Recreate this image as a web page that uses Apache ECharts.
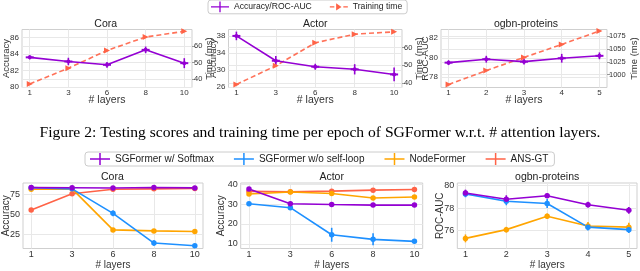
<!DOCTYPE html>
<html><head><meta charset="utf-8">
<script src="https://cdn.jsdelivr.net/npm/echarts@6/dist/echarts.min.js"></script>
<style>html,body{margin:0;padding:0;background:#fff}#c{width:640px;height:271px}</style>
</head><body><div id="c"></div>
<script>
// ---------- DATA ----------
const coraLayers = ['1', '3', '6', '8', '10'];
const actorLayers = ['1', '3', '6', '8', '10'];
const ogbnLayers = ['1', '2', '3', '4', '5'];

// Top row: SGFormer accuracy + training time
const topCoraAcc = [83.6, 83.1, 82.7, 84.5, 82.9];
const topCoraAccErr = [0.25, 0.45, 0.35, 0.4, 0.6];
const topCoraTime = [37.2, 46.7, 57.3, 65.4, 68.8];
const topActorAcc = [38.0, 32.2, 30.8, 30.2, 29.0];
const topActorAccErr = [1.0, 1.1, 0.7, 1.2, 1.6];
const topActorTime = [39.4, 49.8, 62.6, 67.4, 68.7];
const topOgbnAcc = [79.5, 79.85, 79.6, 79.95, 80.2];
const topOgbnAccErr = [0.25, 0.35, 0.3, 0.45, 0.35];
const topOgbnTime = [981.0, 1008.0, 1033.5, 1058.6, 1084.7];

// Top row tick labels
const topCoraAccTicks = [80, 82, 84, 86];
const topCoraTimeTicks = [40, 50, 60];
const topActorAccTicks = [26, 30, 34, 38];
const topActorTimeTicks = [40, 50, 60];
const topOgbnAccTicks = [78, 80, 82];
const topOgbnTimeTicks = [1000, 1025, 1050, 1075];

// Bottom row: variants
const botCoraSoftmax = [83.6, 83.4, 83.0, 83.8, 83.2];
const botCoraSoftmaxErr = [0.4, 0.5, 0.5, 0.5, 0.6];
const botCoraNoLoop = [83.5, 82.0, 51.6, 14.7, 11.4];
const botCoraNoLoopErr = [0.6, 0.8, 3.5, 3.5, 1.2];
const botCoraNodeFormer = [81.5, 82.0, 31.0, 29.8, 29.1];
const botCoraNodeFormerErr = [0.6, 0.8, 1.0, 1.0, 1.0];
const botCoraAnsGt = [55.7, 76.0, 81.5, 82.0, 82.5];
const botCoraAnsGtErr = [0.8, 0.8, 0.6, 0.6, 0.6];

const botActorSoftmax = [37.6, 30.2, 29.8, 29.5, 29.5];
const botActorSoftmaxErr = [1.0, 1.0, 0.6, 1.0, 1.0];
const botActorNoLoop = [30.2, 28.2, 14.6, 12.3, 11.3];
const botActorNoLoopErr = [0.6, 0.8, 3.5, 3.0, 1.0];
const botActorNodeFormer = [35.1, 36.1, 35.3, 33.1, 33.6];
const botActorNodeFormerErr = [0.8, 0.6, 0.8, 0.8, 0.6];
const botActorAnsGt = [36.4, 36.2, 36.5, 37.0, 37.3];
const botActorAnsGtErr = [0.6, 0.6, 0.6, 0.6, 0.8];

const botOgbnSoftmax = [79.34, 78.79, 79.1, 78.3, 77.8];
const botOgbnSoftmaxErr = [0.3, 0.35, 0.2, 0.25, 0.3];
const botOgbnNoLoop = [79.26, 78.6, 78.4, 76.3, 76.08];
const botOgbnNoLoopErr = [0.3, 0.35, 0.4, 0.3, 0.3];
const botOgbnNodeFormer = [75.3, 76.08, 77.27, 76.4, 76.3];
const botOgbnNodeFormerErr = [0.35, 0.25, 0.25, 0.35, 0.4];

const botCoraTicks = [25, 50, 75];
const botActorTicks = [10, 20, 30, 40];
const botOgbnTicks = [76, 78, 80];

// ---------- STYLE ----------
const PURPLE = '#9400D3', BLUE = '#1E90FF', ORANGE = '#FFA500', RED = '#FF6347';
const FONT = 'Liberation Sans';
const GRID_LINE = '#e8e8e8', FRAME = '#cfcfcf', TXT = '#333';

const chart = echarts.init(document.getElementById('c'), null, {renderer: 'canvas'});

const topGeo = [{l: 19.5, r: 192}, {l: 228.5, r: 402}, {l: 441, r: 611}];
const botGeo = [{l: 21.7, r: 203}, {l: 240.7, r: 422.7}, {l: 457.3, r: 637}];
const TOP_T = 29.5, TOP_B = 87.5, BOT_T = 183, BOT_B = 250.5;

const grids = [], xAxes = [], yAxes = [], series = [], titles = [];

function idx(arr) { return arr.map((v, i) => i); }

function addGrid(g, t, b) {
  grids.push({left: g.l, top: t, width: g.r - g.l, height: b - t, show: true,
    borderColor: FRAME, borderWidth: 1, backgroundColor: '#fff'});
  return grids.length - 1;
}
function addX(gi, cats, fs, nameGap, labelMargin, nameSize) {
  const pad = 0.2;
  xAxes.push({type: 'value', gridIndex: gi, min: -pad, max: cats.length - 1 + pad,
    name: '# layers', nameLocation: 'middle', nameGap: nameGap, nameMoveOverlap: false,
    nameTextStyle: {fontFamily: FONT, fontSize: nameSize, color: TXT},
    axisLine: {show: false},
    axisTick: {show: false, customValues: idx(cats)},
    axisLabel: {customValues: idx(cats), formatter: v => cats[Math.round(v)],
      fontFamily: FONT, fontSize: fs, color: TXT, margin: labelMargin},
    splitLine: {show: true, lineStyle: {color: GRID_LINE, width: 1}}});
  return xAxes.length - 1;
}
function addY(gi, pos, min, max, ticks, name, nameGap, fs, nameSize, margin, showTick) {
  yAxes.push({type: 'value', gridIndex: gi, position: pos, min: min, max: max,
    name: name, nameLocation: 'middle', nameGap: nameGap, nameMoveOverlap: false,
    nameTextStyle: {fontFamily: FONT, fontSize: nameSize, color: TXT},
    axisLine: {show: false},
    axisTick: {show: !!showTick, customValues: ticks, length: 3, lineStyle: {color: '#999'}},
    axisLabel: {customValues: ticks, formatter: v => String(v),
      fontFamily: FONT, fontSize: fs, color: TXT, margin: margin},
    splitLine: {show: true, lineStyle: {color: GRID_LINE, width: 1}}});
  return yAxes.length - 1;
}
function errSeries(name, xi, yi, vals, errs, color, cross) {
  return {name: name, type: 'custom', xAxisIndex: xi, yAxisIndex: yi, z: 3,
    data: vals.map((v, i) => [i, v, errs[i]]),
    renderItem: function (params, api) {
      const x = api.value(0), y = api.value(1), e = api.value(2);
      const p1 = api.coord([x, y - e]), p2 = api.coord([x, y + e]), c = api.coord([x, y]);
      const ch = [{type: 'line', shape: {x1: p1[0], y1: p1[1], x2: p2[0], y2: p2[1]},
        style: {stroke: color, lineWidth: 1.6}}];
      if (cross) ch.push({type: 'line', shape: {x1: c[0] - 4, y1: c[1], x2: c[0] + 4, y2: c[1]},
        style: {stroke: color, lineWidth: 2}});
      return {type: 'group', children: ch};
    }};
}
function lineSeries(name, xi, yi, vals, color, opts) {
  return Object.assign({name: name, type: 'line', xAxisIndex: xi, yAxisIndex: yi,
    data: vals.map((v, i) => [i, v]), symbol: 'circle', symbolSize: 5,
    lineStyle: {color: color, width: 1.6}, itemStyle: {color: color}, z: 4, animation: false}, opts || {});
}

// ---------- TOP ROW ----------
const topDefs = [
  {title: 'Cora', cats: coraLayers, acc: topCoraAcc, err: topCoraAccErr, time: topCoraTime,
   yl: [79.97, 86.95, topCoraAccTicks, 'Accuracy', 11], yr: [35.1, 69.9, topCoraTimeTicks, 'Time (ms)', 12]},
  {title: 'Actor', cats: actorLayers, acc: topActorAcc, err: topActorAccErr, time: topActorTime,
   yl: [25.95, 39.5, topActorAccTicks, 'Accuracy', 10], yr: [37.7, 70.0, topActorTimeTicks, 'Time (ms)', 12]},
  {title: 'ogbn-proteins', cats: ogbnLayers, acc: topOgbnAcc, err: topOgbnAccErr, time: topOgbnTime,
   yl: [76.95, 82.9, topOgbnAccTicks, 'ROC-AUC', 11], yr: [975.2, 1087.6, topOgbnTimeTicks, 'Time (ms)', 22]}
];
topDefs.forEach((d, k) => {
  const g = topGeo[k];
  const gi = addGrid(g, TOP_T, TOP_B);
  const xi = addX(gi, d.cats, 8, 7.5, 1, 10.5);
  const yl = addY(gi, 'left', d.yl[0], d.yl[1], d.yl[2], d.yl[3], d.yl[4], 8, 9.5, 3, false);
  const yr = addY(gi, 'right', d.yr[0], d.yr[1], d.yr[2], d.yr[3], d.yr[4], 7.5, 9.5, 2, true);
  series.push(lineSeries('Training time', xi, yr, d.time, RED, {
    symbol: 'triangle', symbolSize: 6, symbolRotate: -90,
    lineStyle: {color: RED, width: 1.6, type: [5, 3], opacity: 0.9}}));
  series.push(lineSeries('Accuracy/ROC-AUC', xi, yl, d.acc, PURPLE, {symbolSize: 4}));
  series.push(errSeries('Accuracy/ROC-AUC', xi, yl, d.acc, d.err, PURPLE, true));
  titles.push({text: d.title, left: (g.l + g.r) / 2, top: 19, textAlign: 'center', padding: 0,
    textStyle: {fontFamily: FONT, fontSize: 10.5, fontWeight: 'normal', color: '#222'}});
});

// ---------- BOTTOM ROW ----------
const botDefs = [
  {title: 'Cora', cats: coraLayers, range: [7.9, 89.3], ticks: botCoraTicks, name: 'Accuracy', gap: 12,
   s: [[botCoraSoftmax, botCoraSoftmaxErr], [botCoraNoLoop, botCoraNoLoopErr], [botCoraNodeFormer, botCoraNodeFormerErr], [botCoraAnsGt, botCoraAnsGtErr]]},
  {title: 'Actor', cats: actorLayers, range: [7.7, 40.6], ticks: botActorTicks, name: 'Accuracy', gap: 14,
   s: [[botActorSoftmax, botActorSoftmaxErr], [botActorNoLoop, botActorNoLoopErr], [botActorNodeFormer, botActorNodeFormerErr], [botActorAnsGt, botActorAnsGtErr]]},
  {title: 'ogbn-proteins', cats: ogbnLayers, range: [74.4, 80.23], ticks: botOgbnTicks, name: 'ROC-AUC', gap: 12,
   s: [[botOgbnSoftmax, botOgbnSoftmaxErr], [botOgbnNoLoop, botOgbnNoLoopErr], [botOgbnNodeFormer, botOgbnNodeFormerErr]]}
];
const botNames = ['SGFormer w/ Softmax', 'SGFormer w/o self-loop', 'NodeFormer', 'ANS-GT'];
const botColors = [PURPLE, BLUE, ORANGE, RED];
const drawOrder = [3, 2, 1, 0];
botDefs.forEach((d, k) => {
  const g = botGeo[k];
  const gi = addGrid(g, BOT_T, BOT_B);
  const xi = addX(gi, d.cats, 9, 11.5, 2, 10);
  const yi = addY(gi, 'left', d.range[0], d.range[1], d.ticks, d.name, d.gap, 9, 10, 3, false);
  drawOrder.forEach(j => {
    if (!d.s[j]) return;
    series.push(lineSeries(botNames[j], xi, yi, d.s[j][0], botColors[j], {symbolSize: 5.5}));
    series.push(errSeries(botNames[j], xi, yi, d.s[j][0], d.s[j][1], botColors[j], false));
  });
  titles.push({text: d.title, left: (g.l + g.r) / 2, top: 172, textAlign: 'center', padding: 0,
    textStyle: {fontFamily: FONT, fontSize: 10.5, fontWeight: 'normal', color: '#222'}});
});

const ERR_ICON = 'path://M0,5.25h20v1.5h-20z M9.25,0h1.5v12h-1.5z';
const TIME_ICON = 'path://M0,5.25h5v1.5h-5z M7,2L13,6L7,10z M15,5.25h5v1.5h-5z M0,0h0.01v0.01h-0.01z M0,11.99h0.01v0.01h-0.01z';

const option = {
  animation: false,
  backgroundColor: '#fff',
  title: titles,
  grid: grids, xAxis: xAxes, yAxis: yAxes, series: series,
  legend: [
    {data: [{name: 'Accuracy/ROC-AUC', icon: ERR_ICON, itemStyle: {color: PURPLE}},
            {name: 'Training time', icon: TIME_ICON, itemStyle: {color: RED}}],
     left: 208, top: 0, itemWidth: 18, itemHeight: 11, itemGap: 18,
     padding: [1.5, 5, 1.5, 3], borderColor: '#ccc', borderWidth: 1, borderRadius: 3,
     textStyle: {fontFamily: FONT, fontSize: 8.6, color: '#222'}},
    {data: botNames.map((n, j) => ({name: n, icon: ERR_ICON, itemStyle: {color: botColors[j]}})),
     left: 85, top: 152, itemWidth: 20, itemHeight: 12, itemGap: 20,
     padding: [1, 6, 1, 5], borderColor: '#ccc', borderWidth: 1, borderRadius: 3,
     textStyle: {fontFamily: FONT, fontSize: 10, color: '#222'}}
  ],
  graphic: [{type: 'text', left: 'center', top: 125,
    style: {text: 'Figure 2: Testing scores and training time per epoch of SGFormer w.r.t. # attention layers.',
      font: '15.6px "Liberation Serif"', fill: '#000'}}]
};
chart.setOption(option);
</script></body></html>
